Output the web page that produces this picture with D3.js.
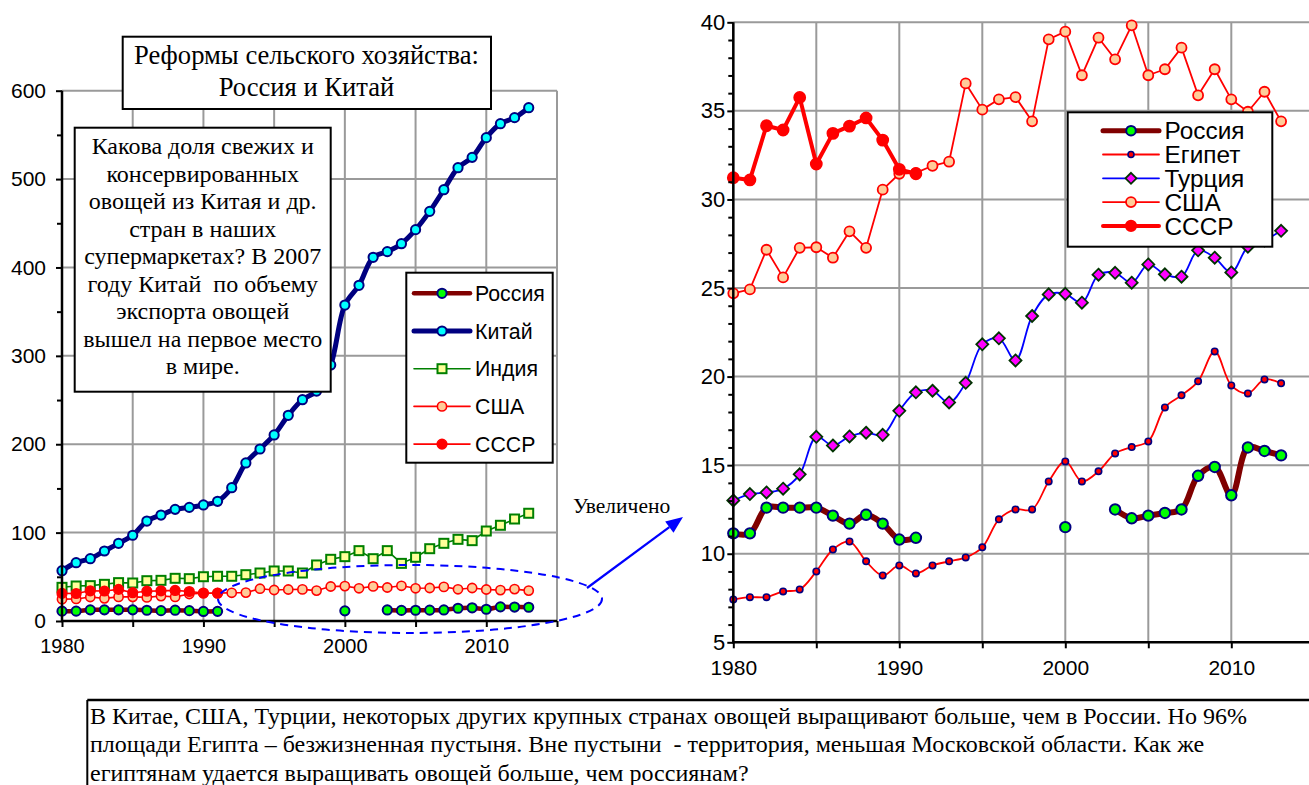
<!DOCTYPE html>
<html>
<head>
<meta charset="utf-8">
<script src="https://cdn.jsdelivr.net/npm/d3@7"></script>
<style>
  html, body { margin: 0; padding: 0; background: #fff; }
  svg { display: block; }
</style>
</head>
<body>
<svg id="chart" width="1309" height="785"></svg>
<script>
// Years shared by all series
const years = [1980,1981,1982,1983,1984,1985,1986,1987,1988,1989,
               1990,1991,1992,1993,1994,1995,1996,1997,1998,1999,
               2000,2001,2002,2003,2004,2005,2006,2007,2008,2009,
               2010,2011,2012,2013];

// Vegetable production per series (null = no data)
const russia = [11.15,11.15,12.6,12.6,12.6,12.6,12.15,11.7,12.2,11.7,
                10.8,10.9,null,null,null,null,null,null,null,null,
                11.5,null,null,12.5,12.0,12.15,12.3,12.5,14.4,14.9,
                13.3,16.0,15.8,15.55];
const egypt  = [7.42,7.55,7.55,7.87,7.98,9.0,10.24,10.69,9.57,8.77,
                9.34,8.89,9.34,9.57,9.79,10.36,11.94,12.5,12.5,14.08,
                15.21,14.08,14.65,15.66,16.02,16.34,18.26,18.94,19.73,21.42,
                19.5,19.05,19.84,19.62];
const turkey = [13.01,13.37,13.46,13.67,14.48,16.6,16.11,16.62,16.83,16.71,
                18.07,19.11,19.2,18.54,19.65,21.82,22.16,20.91,23.42,24.64,
                24.67,24.17,25.75,25.86,25.3,26.33,25.77,25.64,27.13,26.71,
                25.88,27.33,27.69,28.23];
const usa    = [24.7,24.92,27.16,25.6,27.27,27.3,26.71,28.2,27.27,30.55,
                31.45,31.5,31.9,32.13,36.55,35.07,35.65,35.78,34.41,39.04,
                39.47,37.01,39.13,37.91,39.83,37.01,37.35,38.57,35.88,37.35,
                35.65,34.95,36.08,34.41];
const ussr   = [31.23,31.1,34.16,33.92,35.76,32.0,33.73,34.14,34.6,33.35,
                31.7,31.45,null,null,null,null,null,null,null,null,
                null,null,null,null,null,null,null,null,null,null,
                null,null,null,null];
const china  = [56.9,66,70.5,79.2,87.9,97,113.1,119.9,126.3,128.6,
                131.3,135.4,150.8,178.8,194.6,210.5,232.7,250.4,260.2,289.7,
                357.5,379.8,411.5,417.9,426.9,442.8,463.5,488,512.9,524.6,
                546.9,562.7,569.5,580.8];
const india  = [38.1,39.6,40,41.5,43.4,43,45.6,46,48.3,47.9,
                50.1,50.6,50.6,52.4,54.3,56.6,56.6,54.3,63.4,69.8,
                72.8,79.6,70.5,79.6,65.2,72.1,81.8,87.9,92.4,90.9,
                101.8,108.3,115.4,121.9];

// Axis ticks
const leftYTicks  = [0,100,200,300,400,500,600];
const leftYMinor  = [50,150,250,350,450,550];
const rightYTicks = [5,10,15,20,25,30,35,40];
const rightYMinor = [6,7,8,9,11,12,13,14,16,17,18,19,21,22,23,24,26,27,28,29,31,32,33,34,36,37,38,39];
const xTicks      = [1980,1985,1990,1995,2000,2005,2010,2015];

// Texts
const titleLines = ["Реформы сельского хозяйства:", "Россия и Китай"];
const noteLines = ["Какова доля свежих и", "консервированных", "овощей из Китая и др.",
                   "стран в наших", "супермаркетах? В 2007", "году Китай  по объему",
                   "экспорта овощей", "вышел на первое место", "в мире."];
const bottomLines = [
  "В Китае, США, Турции, некоторых других крупных странах овощей выращивают больше, чем в России. Но 96%",
  "площади Египта – безжизненная пустыня. Вне пустыни  - территория, меньшая Московской области. Как же",
  "египтянам удается выращивать овощей больше, чем россиянам?"
];
const zoomLabel = "Увеличено";

const SANS = "'Liberation Sans', Arial, sans-serif";
const SERIF = "'Liberation Serif', 'Times New Roman', serif";
const GRID = "#9a9a9a";

const svg = d3.select("#chart");
svg.append("rect").attr("width",1309).attr("height",785).attr("fill","#fff");

// Series styles
const styles = {
  russia: {line:"#800000", marker:"circle", fill:"#00ff00", stroke:"#000080"},
  china:  {line:"#000080", marker:"circle", fill:"#00ffff", stroke:"#000080"},
  india:  {line:"#008000", marker:"square", fill:"#ffff99", stroke:"#008000"},
  usa:    {line:"#ff0000", marker:"circle", fill:"#ffcc99", stroke:"#ff0000"},
  ussr:   {line:"#ff0000", marker:"circle", fill:"#ff0000", stroke:"#ff0000"},
  egypt:  {line:"#ff0000", marker:"circle", fill:"#ff0000", stroke:"#000080"},
  turkey: {line:"#0000ff", marker:"diamond", fill:"#ff00ff", stroke:"#003300"}
};

function drawMarker(g, type, x, y, size, st, sw) {
  if (type === "circle") {
    g.append("circle").attr("cx",x).attr("cy",y).attr("r",size)
      .attr("fill",st.fill).attr("stroke",st.stroke).attr("stroke-width",sw);
  } else if (type === "square") {
    g.append("rect").attr("x",x-size).attr("y",y-size).attr("width",size*2).attr("height",size*2)
      .attr("fill",st.fill).attr("stroke",st.stroke).attr("stroke-width",sw);
  } else {
    g.append("path").attr("d",`M${x},${y-size}L${x+size},${y}L${x},${y+size}L${x-size},${y}Z`)
      .attr("fill",st.fill).attr("stroke",st.stroke).attr("stroke-width",sw);
  }
}

function drawSeries(g, x, y, values, st, opt) {
  const pts = years.map((yr,i)=>({yr, v: values[i]}));
  const line = d3.line()
    .defined(d => d.v != null)
    .x(d => x(d.yr)).y(d => y(d.v))
    .curve(opt.smooth ? d3.curveCatmullRom.alpha(0.5) : d3.curveLinear);
  g.append("path").attr("d", line(pts)).attr("fill","none")
    .attr("stroke", st.line).attr("stroke-width", opt.lw)
    .attr("stroke-linejoin","round").attr("stroke-linecap","round");
  pts.filter(d => d.v != null).forEach(d =>
    drawMarker(g, st.marker, x(d.yr), y(d.v), opt.size, st, opt.sw));
}

function drawGrid(x, y, yTicks, x0, x1, y0, y1) {
  const g = svg.append("g");
  yTicks.forEach(t => g.append("line").attr("x1",x0).attr("x2",x1)
    .attr("y1",y(t)).attr("y2",y(t)).attr("stroke",GRID).attr("stroke-width",2));
  xTicks.forEach(t => g.append("line").attr("x1",x(t)).attr("x2",x(t))
    .attr("y1",y0).attr("y2",y1).attr("stroke",GRID).attr("stroke-width",2));
}

function drawAxes(x, y, yTicks, yMinor, x0, y0, yTop, opts) {
  const g = svg.append("g");
  const ay = g.append("g").attr("transform",`translate(${x0},0)`)
    .call(d3.axisLeft(y).tickValues(yTicks).tickSize(6).tickPadding(opts.ypad).tickFormat(d3.format("d")));
  const am = g.append("g").attr("transform",`translate(${x0},0)`)
    .call(d3.axisLeft(y).tickValues(yMinor).tickSize(5).tickFormat(""));
  const ax = g.append("g").attr("transform",`translate(0,${y0})`)
    .call(d3.axisBottom(x).tickValues(xTicks).tickSize(6).tickPadding(opts.xpad)
      .tickFormat(d => d % 10 === 0 ? d : ""));
  [ay, am, ax].forEach(a => {
    a.selectAll(".domain").remove();
    a.selectAll("line").attr("stroke","#000").attr("stroke-width",2);
    a.selectAll("text").attr("font-family",SANS).attr("fill","#000");
  });
  ay.selectAll("text").attr("font-size",opts.yfs);
  ax.selectAll("text").attr("font-size",opts.xfs);
  g.append("line").attr("x1",x0).attr("x2",x0).attr("y1",y0+1).attr("y2",yTop)
    .attr("stroke","#000").attr("stroke-width",2.5);
  g.append("line").attr("x1",x0-1).attr("x2",opts.xEnd).attr("y1",y0).attr("y2",y0)
    .attr("stroke","#000").attr("stroke-width",2.5);
}

// ---------- Left chart: 0..600 ----------
const xL = d3.scaleLinear().domain([1980,2015]).range([62,557]);
const yL = d3.scaleLinear().domain([0,600]).range([621,90.7]);
drawGrid(xL, yL, leftYTicks.slice(1), 62, 557, 621, 90.7);
const gL = svg.append("g");
drawSeries(gL, xL, yL, russia, styles.russia, {smooth:true, lw:4.5, size:4.6, sw:2});
drawSeries(gL, xL, yL, china,  styles.china,  {smooth:true, lw:5,   size:4.6, sw:2});
drawSeries(gL, xL, yL, india,  styles.india,  {smooth:false, lw:1.6, size:4.5, sw:2});
drawSeries(gL, xL, yL, usa,    styles.usa,    {smooth:false, lw:1.6, size:4.6, sw:1.6});
drawSeries(gL, xL, yL, ussr,   styles.ussr,   {smooth:false, lw:1.6, size:4.8, sw:1.6});
drawAxes(xL, yL, leftYTicks, leftYMinor, 62, 621, 90.7, {ypad:10, xpad:12, yfs:21, xfs:20, xEnd:557});

// ---------- Right chart: 5..40 ----------
const xR = d3.scaleLinear().domain([1980,2015]).range([733.3,1314.3]);
const yR = d3.scaleLinear().domain([5,40]).range([642.3,22.3]);
drawGrid(xR, yR, rightYTicks.slice(1), 733.3, 1314.3, 642.3, 22.3);
const gR = svg.append("g");
drawSeries(gR, xR, yR, russia, styles.russia, {smooth:true, lw:6, size:5.2, sw:2});
drawSeries(gR, xR, yR, egypt,  styles.egypt,  {smooth:true, lw:1.8, size:3.2, sw:1.6});
drawSeries(gR, xR, yR, turkey, styles.turkey, {smooth:true, lw:1.8, size:6, sw:1.8});
drawSeries(gR, xR, yR, usa,    styles.usa,    {smooth:false, lw:1.8, size:5, sw:1.8});
drawSeries(gR, xR, yR, ussr,   styles.ussr,   {smooth:false, lw:4, size:5.5, sw:1.8});
drawAxes(xR, yR, rightYTicks, rightYMinor, 733.3, 642.3, 22.3, {ypad:2, xpad:12, yfs:22, xfs:21, xEnd:1309});

// ---------- Legends ----------
function legend(box, rows, o) {
  const g = svg.append("g");
  g.append("rect").attr("x",box[0]).attr("y",box[1]).attr("width",box[2]).attr("height",box[3])
    .attr("fill","#fff").attr("stroke","#000").attr("stroke-width",2);
  rows.forEach((r,i) => {
    const y = o.y0 + i*o.dy;
    g.append("line").attr("x1",o.lx0).attr("x2",o.lx1).attr("y1",y).attr("y2",y)
      .attr("stroke",r.st.line).attr("stroke-width",r.lw).attr("stroke-linecap","round");
    drawMarker(g, r.st.marker, (o.lx0+o.lx1)/2, y, r.size, r.st, r.sw);
    g.append("text").attr("x",o.tx).attr("y",y).attr("dy","0.36em")
      .attr("font-family",SANS).attr("font-size",o.fs).text(r.name);
  });
}
legend([406.3,272.7,146.4,190], [
  {name:"Россия", st:styles.russia, lw:4.5, size:4.6, sw:2},
  {name:"Китай",  st:styles.china,  lw:5,   size:4.6, sw:2},
  {name:"Индия",  st:styles.india,  lw:1.6, size:4.5, sw:2},
  {name:"США",    st:styles.usa,    lw:1.6, size:4.6, sw:1.6},
  {name:"СССР",   st:styles.ussr,   lw:1.6, size:4.8, sw:1.6}
], {y0:293.3, dy:37.7, lx0:414, lx1:470, tx:475, fs:21.3});

legend([1067.7,112.3,204.6,134.4], [
  {name:"Россия", st:styles.russia, lw:5,   size:4.8, sw:2},
  {name:"Египет", st:styles.egypt,  lw:1.8, size:3,   sw:1.6},
  {name:"Турция", st:styles.turkey, lw:1.8, size:5.5, sw:1.8},
  {name:"США",    st:styles.usa,    lw:1.8, size:5,   sw:1.8},
  {name:"СССР",   st:styles.ussr,   lw:4,   size:5.2, sw:1.8}
], {y0:130.7, dy:23.8, lx0:1103, lx1:1159, tx:1164.5, fs:24.4});

// ---------- Text boxes ----------
function textBox(box, lines, o) {
  const g = svg.append("g");
  g.append("rect").attr("x",box[0]).attr("y",box[1]).attr("width",box[2]).attr("height",box[3])
    .attr("fill","#fff").attr("stroke","#000").attr("stroke-width",2);
  lines.forEach((t,i) => g.append("text").attr("x",o.x).attr("y",o.y0 + i*o.dy)
    .attr("text-anchor",o.anchor).attr("font-family",SERIF).attr("font-size",o.fs)
    .attr("fill","#000").style("white-space","pre").text(t));
}
textBox([122.7,36.7,368.3,72.3], titleLines, {x:306.5, y0:63.5, dy:32.5, anchor:"middle", fs:26.6});
textBox([74.7,127.7,256,264], noteLines, {x:202.7, y0:154, dy:27.5, anchor:"middle", fs:24});

// Bottom note
const gB = svg.append("g");
gB.append("line").attr("x1",87.3).attr("x2",1309).attr("y1",700).attr("y2",700)
  .attr("stroke","#000").attr("stroke-width",2.5);
gB.append("line").attr("x1",87.3).attr("x2",87.3).attr("y1",700).attr("y2",785)
  .attr("stroke","#000").attr("stroke-width",2);
bottomLines.forEach((t,i) => gB.append("text").attr("x",90).attr("y",724 + i*28.3)
  .attr("font-family",SERIF).attr("font-size",24).style("white-space","pre").text(t));

// ---------- Zoom hint: dashed ellipse and arrow ----------
svg.append("ellipse").attr("cx",410).attr("cy",599).attr("rx",192).attr("ry",34)
  .attr("fill","none").attr("stroke","#0000ff").attr("stroke-width",2)
  .attr("stroke-dasharray","8,6");
const a0 = [587, 588], a1 = [683, 517];
const ang = Math.atan2(a1[1]-a0[1], a1[0]-a0[0]);
const hl = 17, hw = 7;
const base = [a1[0]-hl*Math.cos(ang), a1[1]-hl*Math.sin(ang)];
svg.append("line").attr("x1",a0[0]).attr("y1",a0[1]).attr("x2",base[0]).attr("y2",base[1])
  .attr("stroke","#0000ff").attr("stroke-width",2.2);
svg.append("path").attr("d",
  `M${a1[0]},${a1[1]}L${base[0]+hw*Math.sin(ang)},${base[1]-hw*Math.cos(ang)}L${base[0]-hw*Math.sin(ang)},${base[1]+hw*Math.cos(ang)}Z`)
  .attr("fill","#0000ff");
svg.append("text").attr("x",573).attr("y",513).attr("font-family",SERIF).attr("font-size",21.5)
  .text(zoomLabel);
</script>
</body>
</html>
